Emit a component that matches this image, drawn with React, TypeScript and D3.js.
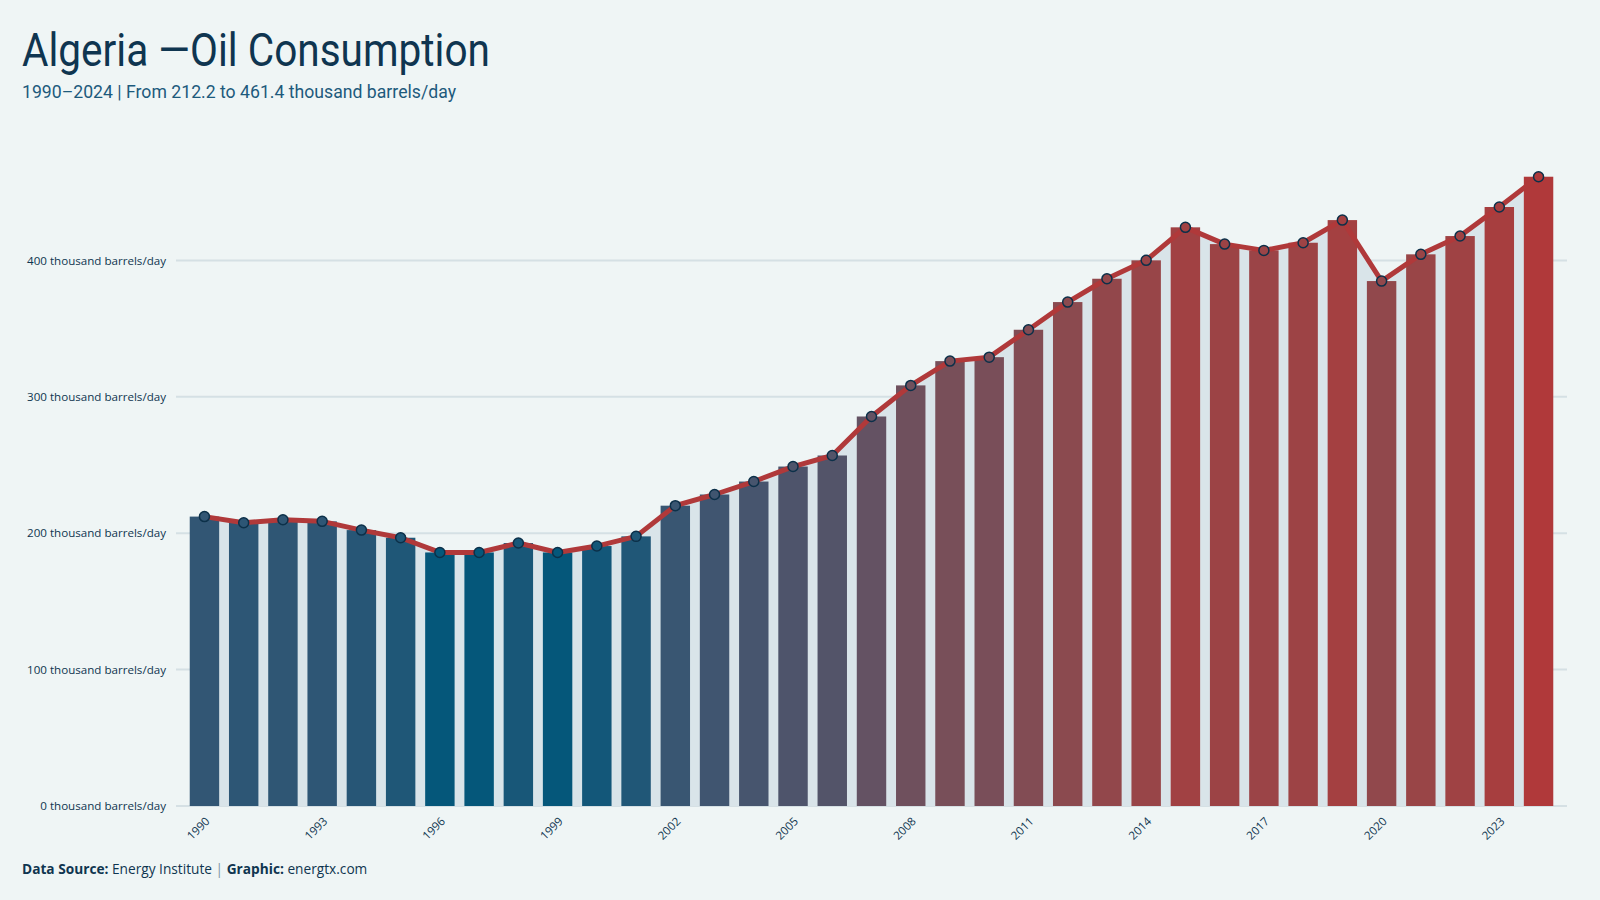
import React, { useEffect, useRef } from "react";
import * as d3 from "d3";

// yearly oil consumption, thousand barrels/day
const years = [
  1990, 1991, 1992, 1993, 1994, 1995, 1996, 1997, 1998, 1999, 2000, 2001,
  2002, 2003, 2004, 2005, 2006, 2007, 2008, 2009, 2010, 2011, 2012, 2013,
  2014, 2015, 2016, 2017, 2018, 2019, 2020, 2021, 2022, 2023, 2024,
];
const consumption = [
  212.2, 207.7, 209.9, 208.7, 202.3, 196.7, 185.9, 185.9, 192.8, 185.9, 190.6,
  197.7, 220.2, 228.4, 237.9, 248.9, 257.0, 285.6, 308.4, 326.2, 329.1, 349.2,
  369.5, 386.6, 400.1, 424.3, 412.0, 407.4, 413.0, 429.6, 384.9, 404.5, 417.9,
  439.2, 461.4,
];
const yTicks = [0, 100, 200, 300, 400];
const xTickYears = [1990, 1993, 1996, 1999, 2002, 2005, 2008, 2011, 2014, 2017, 2020, 2023];

const W = 1600;
const H = 900;
const BG = "#eff5f5";
const INK = "#0f3550";
const LOW = "#05577a";
const HIGH = "#b0393a";

const App = () => {
  const svgRef = useRef<SVGSVGElement>(null);

  useEffect(() => {
    const svg = d3.select(svgRef.current);
    svg.selectAll("*").remove();

    const data = years.map((year, i) => ({ year, value: consumption[i] }));
    const margin = { top: 165, right: 33, bottom: 94, left: 176 };

    const x = d3
      .scaleBand<number>()
      .domain(years)
      .range([margin.left, W - margin.right])
      .paddingInner(0.25)
      .paddingOuter(0.35);

    const y = d3
      .scaleLinear()
      .domain([0, 470])
      .range([H - margin.bottom, margin.top]);

    const minV = d3.min(consumption) as number;
    const maxV = d3.max(consumption) as number;
    const color = d3
      .scaleLinear<string>()
      .domain([minV, maxV])
      .range([LOW, HIGH])
      .interpolate(d3.interpolateLab);

    const cx = (d: { year: number }) => (x(d.year) as number) + x.bandwidth() / 2;

    svg.append("rect").attr("width", W).attr("height", H).attr("fill", BG);

    // gridlines
    svg
      .append("g")
      .selectAll("line")
      .data(yTicks)
      .enter()
      .append("line")
      .attr("x1", margin.left)
      .attr("x2", W - margin.right)
      .attr("y1", (d) => y(d))
      .attr("y2", (d) => y(d))
      .attr("stroke", "#d5e0e4")
      .attr("stroke-width", 2);

    // shaded area under the line
    const area = d3
      .area<{ year: number; value: number }>()
      .x(cx)
      .y0(y(0))
      .y1((d) => y(d.value));
    svg.append("path").datum(data).attr("fill", "#d9e4e9").attr("d", area);

    // bars coloured by value
    svg
      .append("g")
      .selectAll("rect")
      .data(data)
      .enter()
      .append("rect")
      .attr("x", (d) => x(d.year) as number)
      .attr("y", (d) => y(d.value))
      .attr("width", x.bandwidth())
      .attr("height", (d) => y(0) - y(d.value))
      .attr("fill", (d) => color(d.value));

    // trend line
    const line = d3
      .line<{ year: number; value: number }>()
      .x(cx)
      .y((d) => y(d.value));
    svg
      .append("path")
      .datum(data)
      .attr("fill", "none")
      .attr("stroke", HIGH)
      .attr("stroke-width", 5)
      .attr("stroke-linejoin", "round")
      .attr("d", line);

    svg
      .append("g")
      .selectAll("circle")
      .data(data)
      .enter()
      .append("circle")
      .attr("cx", cx)
      .attr("cy", (d) => y(d.value))
      .attr("r", 5)
      .attr("fill", (d) => color(d.value))
      .attr("stroke", "#0c3049")
      .attr("stroke-width", 1.5);

    // y axis labels
    const yAxis = svg
      .append("g")
      .attr("transform", `translate(${margin.left - 10}, 0)`)
      .call(
        d3
          .axisLeft(y)
          .tickValues(yTicks)
          .tickSize(0)
          .tickPadding(0)
          .tickFormat((d) => `${d} thousand barrels/day`)
      );
    yAxis.select(".domain").remove();
    yAxis
      .selectAll("text")
      .attr("fill", INK)
      .style("font-family", "'Open Sans', sans-serif")
      .style("font-size", "11.6px");

    // x axis labels, every third year
    const xAxis = svg
      .append("g")
      .attr("transform", `translate(0, ${y(0)})`)
      .call(d3.axisBottom(x).tickValues(xTickYears).tickSize(0).tickPadding(0));
    xAxis.select(".domain").remove();
    xAxis
      .selectAll("text")
      .attr("fill", INK)
      .attr("dy", 0)
      .attr("y", 0)
      .attr("transform", "translate(6, 16) rotate(-45)")
      .style("text-anchor", "end")
      .style("font-family", "'Open Sans', sans-serif")
      .style("font-size", "11.5px");

    // title block
    svg
      .append("text")
      .attr("x", 22)
      .attr("y", 66)
      .attr("fill", INK)
      .attr("textLength", 468)
      .attr("lengthAdjust", "spacingAndGlyphs")
      .style("font-family", "Roboto, sans-serif")
      .style("font-weight", 400)
      .style("font-size", "46px")
      .text("Algeria \u2014Oil Consumption");

    svg
      .append("text")
      .attr("x", 22)
      .attr("y", 98)
      .attr("fill", "#1d5a7c")
      .attr("textLength", 434)
      .attr("lengthAdjust", "spacingAndGlyphs")
      .style("font-family", "Roboto, sans-serif")
      .style("font-size", "19px")
      .text("1990\u20132024 | From 212.2 to 461.4 thousand barrels/day");

    // footer
    const foot = svg
      .append("text")
      .attr("x", 22)
      .attr("y", 874)
      .attr("fill", INK)
      .style("font-family", "'Open Sans', sans-serif")
      .style("font-size", "13.7px");
    foot.append("tspan").style("font-weight", 700).text("Data Source:");
    foot.append("tspan").text(" Energy Institute ");
    foot.append("tspan").attr("fill", "#7c95a6").text("|");
    foot.append("tspan").style("font-weight", 700).text(" Graphic:");
    foot.append("tspan").text(" energtx.com");
  }, []);

  return (
    <svg
      ref={svgRef}
      width={W}
      height={H}
      style={{ position: "absolute", left: 0, top: 0, display: "block" }}
    />
  );
};

export default App;
